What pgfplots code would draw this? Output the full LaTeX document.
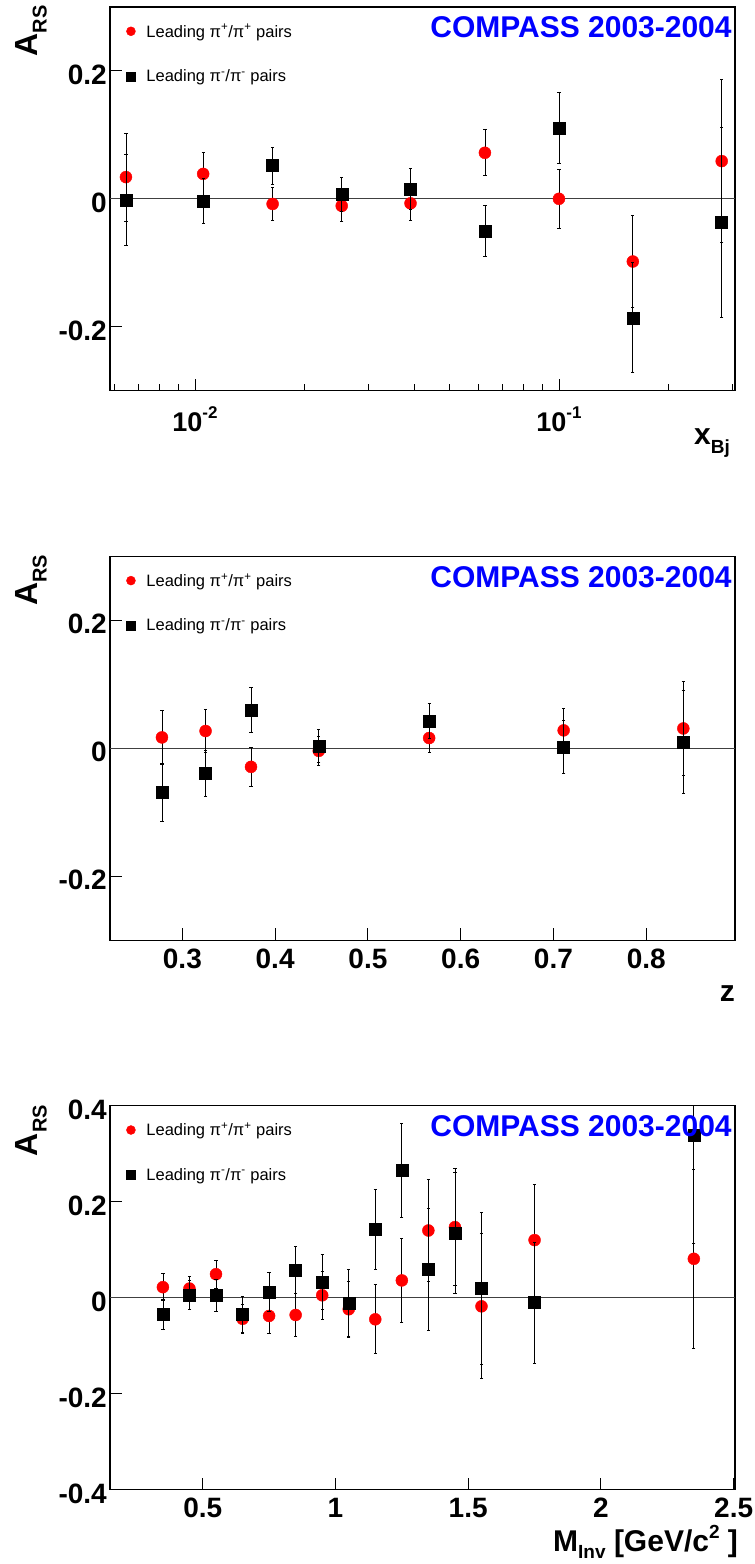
\documentclass[border=0pt]{standalone}
\usepackage{fontspec}
\setmainfont{Liberation Sans}
\usepackage{pgfplots}
\usepackage{pgfplotstable}
\pgfplotsset{compat=1.18}
\definecolor{rootblue}{RGB}{0,0,255}
\definecolor{rootred}{RGB}{255,0,0}
\newcommand{\fs}[1]{\fontsize{#1}{#1}\selectfont}

% x, red value, red error, black value, black error
\pgfplotstableread{
x ar er ab eb
0.00646 0.034 0.069 -0.002 0.071
0.01053 0.039 0.034 -0.003 0.035
0.01634 -0.008 0.026 0.052 0.029
0.0253 -0.011 0.024 0.007 0.027
0.0391 -0.007 0.027 0.015 0.032
0.0626 0.072 0.036 -0.050 0.040
0.100 0.000 0.046 0.111 0.055
0.1596 -0.098 0.072 -0.186 0.086
0.280 0.059 0.127 -0.037 0.149
}\xbjdata

\pgfplotstableread{
x ar er ab eb
0.278 0.017 0.042 -0.069 0.046
0.325 0.027 0.033 -0.039 0.036
0.374 -0.029 0.031 0.060 0.035
0.447 -0.004 0.023 0.004 0.026
0.566 0.016 0.023 0.043 0.027
0.711 0.028 0.034 0.002 0.042
0.840 0.031 0.073 0.010 0.081
}\zdata

\pgfplotstableread{
x ar er ab eb
0.35 0.022 0.028 -0.034 0.031
0.45 0.019 0.026 0.005 0.030
0.55 0.049 0.029 0.005 0.033
0.65 -0.044 0.030 -0.035 0.038
0.75 -0.038 0.037 0.0125 0.041
0.85 -0.036 0.044 0.058 0.048
0.95 0.005 0.050 0.033 0.057
1.05 -0.024 0.058 -0.011 0.070
1.15 -0.045 0.072 0.142 0.083
1.25 0.036 0.088 0.266 0.098
1.35 0.140 0.106 0.059 0.127
1.45 0.147 0.122 0.135 0.127
1.55 -0.018 0.151 0.019 0.158
1.75 0.120 0.117 -0.010 0.126
2.35 0.081 0.186 0.339 0.226
}\mdata

\pgfplotsset{
  panel/.style={
    scale only axis, width=625pt, height=384pt,
    anchor=south west,
    clip mode=individual,
    axis line style={line width=1.2pt},
    tick align=inside, tick pos=left,
    major tick length=12pt, minor tick length=7pt,
    every tick/.style={black, line width=0.9pt},
    ticklabel style={font=\bfseries\fs{28}},
    yticklabel style={inner xsep=3pt, yshift=-4pt},
    xticklabel style={inner ysep=8pt},
    legend style={at={(axis description cs:0.026,0.956)}, anchor=north west,
      draw=none, fill=none, font=\fs{16.5}, inner sep=0pt, row sep=31pt,
      nodes={inner xsep=3pt, inner ysep=0pt},
      /tikz/every odd column/.append style={column sep=8pt}},
    legend cell align=left,
    legend image post style={mark size=4.5pt},
  },
  redpts/.style={only marks, mark=*, mark size=6pt, color=rootred,
    mark options={fill=rootred, draw=rootred},
    error bars/.cd, y dir=both, y explicit,
    error bar style={black, line width=0.8pt},
    error mark options={rotate=90, black, line width=0.8pt, mark size=1.6pt}},
  blkpts/.style={only marks, mark=square*, mark size=6pt, color=black,
    mark options={fill=black, draw=black},
    error bars/.cd, y dir=both, y explicit,
    error bar style={black, line width=0.8pt},
    error mark options={rotate=90, black, line width=0.8pt, mark size=1.6pt}},
}
\tikzset{arslabel/.style={rotate=90, font=\bfseries\fs{32}, inner sep=0pt}}
\newcommand{\ars}{A\raisebox{-9pt}{\fs{20}RS}}

\begin{document}
\begin{tikzpicture}
\useasboundingbox (0pt,0pt) rectangle (755pt,1564pt);

% ---------- x_Bj panel ----------
\begin{axis}[panel, at={(110pt,1173.3pt)}, height=383.7pt,
  xmode=log, xmin=0.00584, xmax=0.3046, ymin=-0.3, ymax=0.3,
  xtick={0.01,0.1},
  xticklabels={10\raisebox{13pt}{\fs{17}-2},10\raisebox{13pt}{\fs{17}-1}},
  minor xtick={0.006,0.007,0.008,0.009,0.02,0.03,0.04,0.05,0.06,0.07,0.08,0.09,0.2,0.3},
  ytick={-0.2,0,0.2}, yticklabels={-0.2,0,0.2},
  xticklabel style={font=\bfseries\fs{27}, inner ysep=16pt}]
\addplot[forget plot, black!75, line width=0.9pt] coordinates {(0.00584,0) (0.3046,0)};
\addplot[redpts] table[x=x, y=ar, y error=er] {\xbjdata};
\addlegendentry{Leading π\textsuperscript{+}/π\textsuperscript{+} pairs}
\addplot[blkpts] table[x=x, y=ab, y error=eb] {\xbjdata};
\addlegendentry{Leading π\textsuperscript{-}/π\textsuperscript{-} pairs}
\node[anchor=east, font=\bfseries\fs{30}, text=rootblue, inner sep=0pt] at (axis description cs:0.995,0.9466) {COMPASS 2003-2004};
\node[arslabel] at (axis description cs:-0.126,0.9375) {\ars};
\node[anchor=base east, font=\bfseries\fs{30}, inner sep=0pt] at (axis description cs:0.992,-0.1407) {x\raisebox{-9pt}{\fs{19}Bj}};
\end{axis}

% ---------- z panel ----------
\begin{axis}[panel, at={(110pt,623.7pt)},
  xmin=0.222, xmax=0.8957, ymin=-0.3, ymax=0.3,
  xtick={0.3,0.4,0.5,0.6,0.7,0.8}, xticklabels={0.3,0.4,0.5,0.6,0.7,0.8},
  ytick={-0.2,0,0.2}, yticklabels={-0.2,0,0.2}]
\addplot[forget plot, black!75, line width=0.9pt] coordinates {(0.222,0) (0.8957,0)};
\addplot[redpts] table[x=x, y=ar, y error=er] {\zdata};
\addlegendentry{Leading π\textsuperscript{+}/π\textsuperscript{+} pairs}
\addplot[blkpts] table[x=x, y=ab, y error=eb] {\zdata};
\addlegendentry{Leading π\textsuperscript{-}/π\textsuperscript{-} pairs}
\node[anchor=east, font=\bfseries\fs{30}, text=rootblue, inner sep=0pt] at (axis description cs:0.995,0.9466) {COMPASS 2003-2004};
\node[arslabel] at (axis description cs:-0.126,0.9375) {\ars};
\node[anchor=base east, font=\bfseries\fs{30}, inner sep=0pt] at (axis description cs:1.0,-0.159) {z};
\end{axis}

% ---------- M_Inv panel ----------
\begin{axis}[panel, at={(110pt,74.3pt)},
  xmin=0.1507, xmax=2.505, ymin=-0.4, ymax=0.4,
  xtick={0.5,1,1.5,2,2.5}, xticklabels={0.5,1,1.5,2,2.5},
  ytick={-0.4,-0.2,0,0.2,0.4}, yticklabels={-0.4,-0.2,0,0.2,0.4}]
\addplot[forget plot, black!75, line width=0.9pt] coordinates {(0.1507,0) (2.505,0)};
\addplot[redpts] table[x=x, y=ar, y error=er] {\mdata};
\addlegendentry{Leading π\textsuperscript{+}/π\textsuperscript{+} pairs}
\addplot[blkpts] table[x=x, y=ab, y error=eb] {\mdata};
\addlegendentry{Leading π\textsuperscript{-}/π\textsuperscript{-} pairs}
\node[anchor=east, font=\bfseries\fs{30}, text=rootblue, inner sep=0pt] at (axis description cs:0.995,0.9466) {COMPASS 2003-2004};
\node[arslabel] at (axis description cs:-0.126,0.935) {\ars};
\node[anchor=base east, font=\bfseries\fs{30}, inner sep=0pt] at (axis description cs:1.005,-0.1615) {M\raisebox{-7pt}{\fs{19}Inv} [GeV/c\raisebox{13pt}{\fs{19}2} ]};
\end{axis}
\end{tikzpicture}
\end{document}
